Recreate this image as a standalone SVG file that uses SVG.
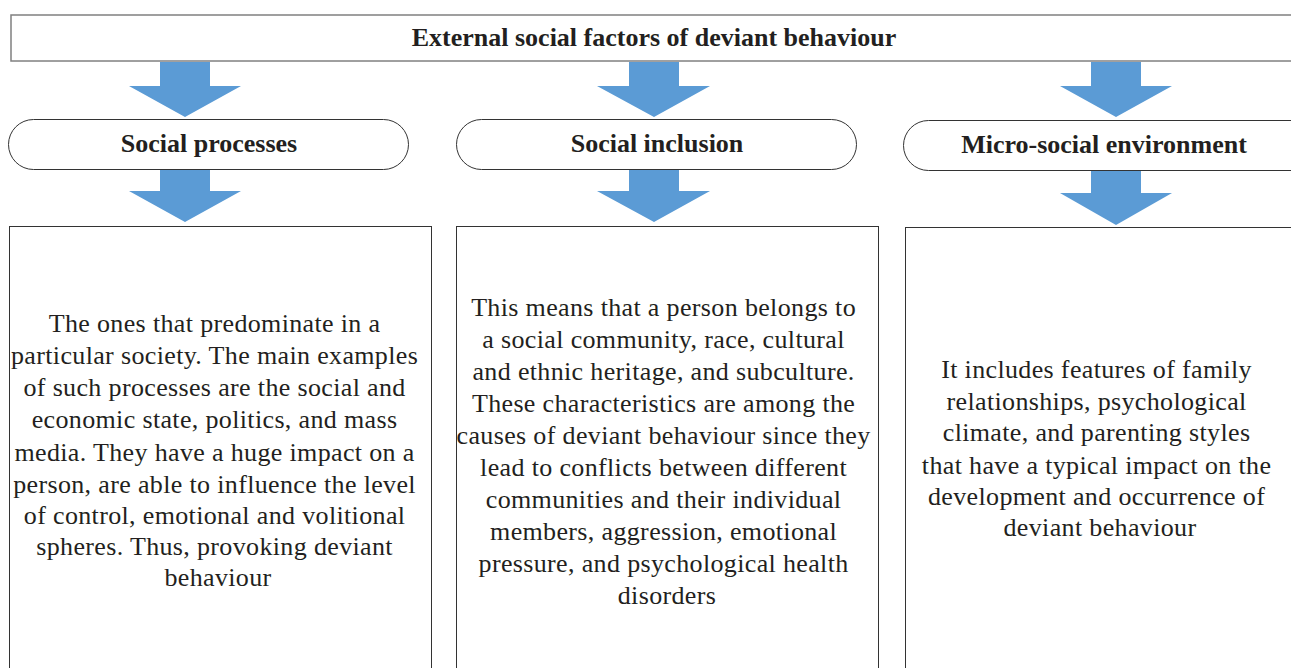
<svg xmlns="http://www.w3.org/2000/svg" width="1291" height="668" viewBox="0 0 1291 668">
<style>
.t{font-family:"Liberation Serif","DejaVu Serif",serif;fill:#231f20;text-anchor:middle}
.h{font-weight:bold;font-size:26px}
.b{font-size:26px;letter-spacing:0.35px}
.pill{fill:#fff;stroke:#333;stroke-width:1}
.box{fill:#fff;stroke:#333;stroke-width:1}
.arr{fill:#5b9bd5}
</style>
<rect width="1291" height="668" fill="#fff"/>
<g id="title">
<rect x="11" y="15" width="1300" height="46" fill="#fff" stroke="#808080" stroke-width="1.5"/>
<text class="t h" x="654" y="46">External social factors of deviant behaviour</text>
</g>
<g id="connectors">
<path class="arr" d="M160 62H210V86H241L185 117L129 86H160Z"/>
<path class="arr" d="M629 62H679V86H710L654 117L597 86H629Z"/>
<path class="arr" d="M1091 62H1141V86H1172L1116 117L1060 86H1091Z"/>
<path class="arr" d="M160 169H210V191H241L185 222L129 191H160Z"/>
<path class="arr" d="M629 169H679V191H710L654 222L597 191H629Z"/>
<path class="arr" d="M1091 170H1141V193H1172L1116 225L1060 193H1091Z"/>
</g>
<g id="pill1">
<rect class="pill" x="8.5" y="119.5" width="400" height="50" rx="25"/>
<text class="t h" x="209" y="152">Social processes</text>
</g>
<g id="pill2">
<rect class="pill" x="456.5" y="119.5" width="400" height="50" rx="25"/>
<text class="t h" x="657" y="152">Social inclusion</text>
</g>
<g id="pill3">
<rect class="pill" x="903.5" y="120.5" width="420" height="50" rx="25"/>
<text class="t h" x="1104" y="153">Micro-social environment</text>
</g>
<g id="box1">
<rect class="box" x="9.5" y="226.5" width="422" height="460"/>
<text class="t b" x="218">
<tspan x="218" y="332">The ones that predominate in a</tspan>
<tspan x="218" y="364">particular society. The main examples</tspan>
<tspan x="218" y="396">of such processes are the social and</tspan>
<tspan x="218" y="428">economic state, politics, and mass</tspan>
<tspan x="218" y="461">media. They have a huge impact on a</tspan>
<tspan x="218" y="493">person, are able to influence the level</tspan>
<tspan x="218" y="524">of control, emotional and volitional</tspan>
<tspan x="218" y="555">spheres. Thus, provoking deviant</tspan>
<tspan x="218" y="586">behaviour</tspan>
</text>
</g>
<g id="box2">
<rect class="box" x="456.5" y="226.5" width="422" height="460"/>
<text class="t b" x="667">
<tspan x="667" y="316">This means that a person belongs to</tspan>
<tspan x="667" y="348">a social community, race, cultural</tspan>
<tspan x="667" y="380">and ethnic heritage, and subculture.</tspan>
<tspan x="667" y="412">These characteristics are among the</tspan>
<tspan x="667" y="444">causes of deviant behaviour since they</tspan>
<tspan x="667" y="476">lead to conflicts between different</tspan>
<tspan x="667" y="508">communities and their individual</tspan>
<tspan x="667" y="540">members, aggression, emotional</tspan>
<tspan x="667" y="572">pressure, and psychological health</tspan>
<tspan x="667" y="604">disorders</tspan>
</text>
</g>
<g id="box3">
<rect class="box" x="905.5" y="227.5" width="420" height="460"/>
<text class="t b" x="1100">
<tspan x="1100" y="378">It includes features of family</tspan>
<tspan x="1100" y="410">relationships, psychological</tspan>
<tspan x="1100" y="441">climate, and parenting styles</tspan>
<tspan x="1100" y="474">that have a typical impact on the</tspan>
<tspan x="1100" y="505">development and occurrence of</tspan>
<tspan x="1100" y="536">deviant behaviour</tspan>
</text>
</g>
</svg>
